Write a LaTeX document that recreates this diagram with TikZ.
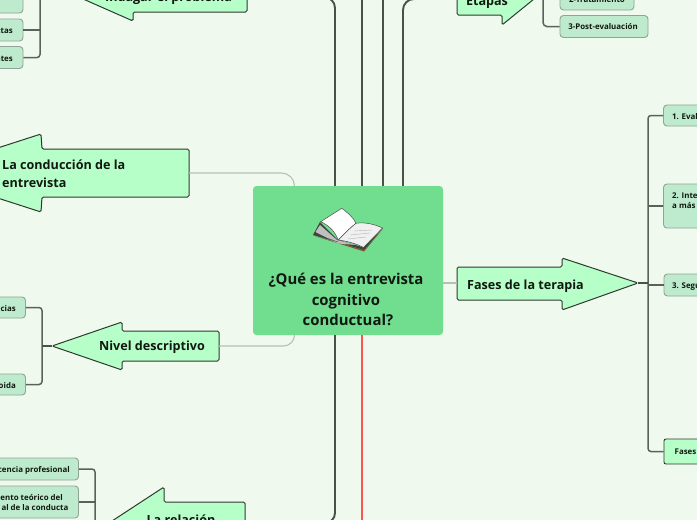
\documentclass[tikz,border=0pt]{standalone}
\usepackage{fontspec}
\setmainfont{Open Sans}
\definecolor{bgc}{HTML}{EFF9EE}
\definecolor{rootc}{HTML}{70DD8F}
\definecolor{armc}{HTML}{B6FFC8}
\definecolor{childc}{HTML}{BEEBCD}
\definecolor{linec}{HTML}{47524A}
\definecolor{softc}{HTML}{B4C2B4}
\definecolor{edgec}{HTML}{2E3A30}
\definecolor{redc}{HTML}{FF5252}
\definecolor{inkc}{HTML}{111811}
\tikzset{
  x=1pt,y=-1pt,
  trunk/.style={draw=linec,line width=1.9pt},
  twig/.style={draw=linec!90!white,line width=1.5pt,rounded corners=3pt},
  soft/.style={draw=softc,line width=1.1pt},
  armshape/.style={draw=edgec,fill=armc,line width=1pt,rounded corners=1.5pt},
  leafbox/.style={draw=childc!60!black!80,fill=childc,line width=.9pt,rounded corners=3.5pt,inner sep=0pt},
  leafbright/.style={draw=edgec,fill=armc,line width=.9pt,rounded corners=2pt,inner sep=0pt},
  armtext/.style={text=inkc,font=\fontsize{12.6}{18}\selectfont\bfseries,inner sep=0pt},
  leaftext/.style={text=inkc,font=\fontsize{7.9}{11}\selectfont\bfseries,inner sep=0pt},
}
\begin{document}
\begin{tikzpicture}
\useasboundingbox (0,0) rectangle (697,520);
\clip (0,0) rectangle (697,520);
\fill[bgc] (0,0) rectangle (697,520);

% anchors
\coordinate (tl) at (335,-3);
\coordinate (tb) at (362,0);
\coordinate (tc) at (383,0);
\coordinate (td) at (403,-1);
\coordinate (bl) at (335,523);
\coordinate (br) at (362,520);
\coordinate (tipfases) at (638,283);
\coordinate (tipnivel) at (52,346);
\coordinate (tipetapas) at (534,-1);
\coordinate (tipindagar) at (40,-20);
\coordinate (spfases) at (648,283);
\coordinate (spnivel) at (42,346);
\coordinate (spetapas) at (543,-1);
\coordinate (sptop) at (40,-2);

% root
\node[fill=rootc,rounded corners=3.5pt,minimum width=190pt,minimum height=149pt,inner sep=0pt] (root) at (348,260.5) {};

% trunk lines
\draw[trunk,rounded corners=11pt] (root.north -| tl) -- (tl) -- (322,-3);
\draw[trunk] (root.north -| tb) -- (tb);
\draw[trunk] (root.north -| tc) -- (tc);
\draw[trunk,rounded corners=11pt] (root.north -| td) -- (td) -- (420,-1);
\draw[trunk,rounded corners=10pt] (root.south -| bl) -- (bl) -- (322,523);
\draw[draw=redc,line width=2.1pt] (root.south -| br) -- (br);

% arms
\draw[armshape] (42,197) -- (189,197) -- (189,149) -- (42,149) -- (41,134) -- (-80,173) -- (41,212) -- cycle;
\node[armtext,align=left,anchor=west] (conduccion) at (2,174) {La conducción de la\\entrevista};
\draw[armshape] (122,361) -- (219,361) -- (219,331) -- (122,331) -- (122,322) -- (tipnivel) -- (122,370) -- cycle;
\node[armtext,anchor=base] (nivel) at (152,350.5) {Nivel descriptivo};
\draw[armshape] (457,267) -- (562,267) -- (562,258) -- (tipfases) -- (562,310) -- (562,300) -- (457,300) -- cycle;
\node[armtext,anchor=base west] (fases) at (467,289) {Fases de la terapia};
\draw[armshape] (457,-17) -- (502,-17) -- (502,-27) -- (tipetapas) -- (502,25) -- (502,15) -- (457,15) -- cycle;
\node[armtext,anchor=base] (etapas) at (487,5) {Etapas};
\draw[armshape] (247,12) -- (133,12) -- (133,21) -- (tipindagar) -- (133,-40) -- (133,-20) -- (247,-20) -- cycle;
\node[armtext,anchor=base] (indagar) at (168.5,1) {Indagar el problema};
\draw[armshape] (245,502) -- (164,502) -- (164,487) -- (60,555) -- (164,600) -- (245,600) -- cycle;
\node[armtext,anchor=base] (relacion) at (181,524) {La relación};

% soft connectors
\draw[soft,rounded corners=13pt] (189,173) -- (294.5,173) -- (294.5,186);
\draw[soft,rounded corners=11pt] (219,346) -- (294.5,346) -- (294.5,335);
\draw[soft] (443,283) -- (457,283);
\draw[soft] (412,-.2) -- (457,-.2);
\draw[soft] (533,-.5) -- (543,-.5);

% right leaves
\node[leafbox,minimum width=60pt,minimum height=21pt] (r1) at (693.5,115.5) {};
\node[leaftext,anchor=base west] (r1t) at (672,119) {1. Eval};
\node[leafbox,minimum width=60pt,minimum height=44pt] (r2) at (693.5,206) {};
\node[leaftext,anchor=base west] (r2t) at (672,198) {2. Inte};
\node[leaftext,anchor=base west] (r2u) at (672,208.5) {a más};
\node[leafbox,minimum width=60pt,minimum height=22pt] (r3) at (694,285) {};
\node[leaftext,anchor=base west] (r3t) at (672,288) {3. Segu};
\node[leafbright,minimum width=60pt,minimum height=25pt] (r4) at (694,451.5) {};
\node[leaftext,anchor=base west] (r4t) at (674.5,454.5) {Fases};
\draw[twig] (r1.west) -- (r1.west -| spfases) -- (r4.west -| spfases) -- (r4.west);
\draw[twig] (r2.west) -- (r2.west -| spfases);
\draw[twig] (r3.west) -- (r3.west -| spfases);
\draw[trunk] (tipfases) -- (spfases);

% etapas leaves
\node[leafbox,minimum width=74pt,minimum height=22pt] (e2) at (597,-1) {};
\node[leaftext] (e2t) at (597,0) {2-Tratamiento};
\node[leafbox,minimum width=88pt,minimum height=22pt] (e3) at (604,26.5) {};
\node[leaftext] (e3t) at (603,27) {3-Post-evaluación};
\draw[twig,rounded corners=4pt] (spetapas) -- (spetapas |- e3.west) -- (e3.west);
\draw[twig] (spetapas) -- (e2.west);

% nivel leaves
\node[leafbox,minimum width=60pt,minimum height=21pt] (n1) at (-4.5,307.5) {};
\node[leaftext,anchor=base east] (n1t) at (16,311) {cias};
\node[leafbox,minimum width=60pt,minimum height=21pt] (n2) at (-4.5,384.5) {};
\node[leaftext,anchor=base east] (n2t) at (16,388) {oida};
\draw[twig] (n1.east) -- (n1.east -| spnivel) -- (n2.east -| spnivel) -- (n2.east);
\draw[trunk] (tipnivel) -- (spnivel);

% top-left leaves
\node[leafbox,minimum width=60pt,minimum height=24pt] (a1) at (-7,1) {};
\node[leafbox,minimum width=60pt,minimum height=22pt] (a2) at (-7,30) {};
\node[leaftext,anchor=base east] (a2t) at (13,33) {ctas};
\node[leafbox,minimum width=60pt,minimum height=22pt] (a3) at (-7,57.5) {};
\node[leaftext,anchor=base east] (a3t) at (13,61) {ntes};
\draw[twig] (sptop) -- (sptop |- a3.east) -- (a3.east);
\draw[twig] (a2.east) -- (a2.east -| sptop);

% relation leaves
\node[leafbox,minimum width=120pt,minimum height=22pt] (c1) at (18.5,469) {};
\node[leaftext,anchor=base east] (c1t) at (70,472) {cencia profesional};
\node[leafbox,minimum width=120pt,minimum height=32pt] (c2) at (18.5,502) {};
\node[leaftext,anchor=base east] (c2t) at (63,500) {ento teórico del};
\node[leaftext,anchor=base east] (c2u) at (68.5,510.5) {al de la conducta};
\coordinate (sprelend) at (95,522);
\draw[twig] (c1.east) -- (c1.east -| sprelend) -- (sprelend);
\draw[twig] (c2.east) -- (c2.east -| sprelend);

% book
\fill[brown!70!black] (313,235.5) -- (364,250) -- (383,229) -- (364,251.5) -- cycle;
\fill[black!75] (313,235) -- (320,222) -- (338,240) -- (362,247) -- (383,228) -- (364,250) -- cycle;
\fill[black!25] (315.5,232) -- (320,225) -- (337,240) -- (356,245) -- (338,243.5) -- cycle;
\draw[black!70,line width=.5pt] (315,234) -- (338,242);
\draw[fill=white,draw=black!70,line width=.5pt] (320.7,221.7) -- (341.7,208.3) .. controls (348,213) and (353,217) .. (356,223.3) .. controls (350,228) and (344,234) .. (338.3,240) .. controls (335,232) and (330,226) .. cycle;
\draw[fill=black!6,draw=black!70,line width=.5pt] (356,223.3) .. controls (365,222) and (374,224) .. (382.5,228) -- (363.5,247.5) .. controls (355,243) and (346,241) .. (338.3,240) .. controls (344,234) and (350,228) .. cycle;
\draw[black!30,line width=.4pt] (354,231) -- (372,230) (350,235) -- (370,233) (348,239) -- (366,237);

% root text
\node[text=inkc,font=\fontsize{14.9}{20.5}\selectfont\bfseries,align=center,inner sep=0pt] (roott) at (346,299.5) {¿Qué es la entrevista\\cognitivo\\ \ conductual?};
\end{tikzpicture}
\end{document}
